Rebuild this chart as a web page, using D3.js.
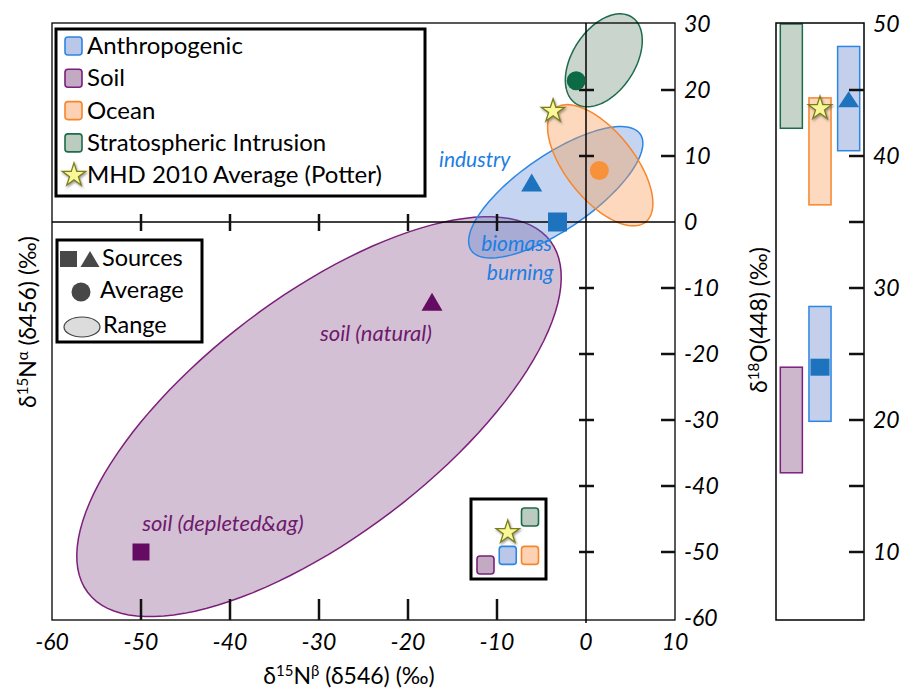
<!DOCTYPE html>
<html><head><meta charset="utf-8">
<script src="https://cdn.jsdelivr.net/npm/d3@7"></script>
<style>
body{margin:0;background:#fff;}
svg{font-family:Lato,"Open Sans",sans-serif;}
</style></head><body>
<svg id="chart" width="902" height="692"></svg>
<script>
// ---- groups and colours ----
const groups = ["Anthropogenic","Soil","Ocean","Stratospheric Intrusion"];
const groupStroke = ["#2b87e3","#7b1f7b","#f7862a","#1d6b4b"];
const groupLight = ["#bac7e9","#c3aac3","#fdd2b4","#bccbbf"];
const groupTint = ["#4f7fd3","#7c3f7c","#f99d58","#5c7e66"];
const groupDark = ["#1e73be","#660b64","#f7923a","#0c6a45"];

// ---- δ15N ranges (ellipses): centre and two semi-axis vectors, in ‰ ----
const rangeGroup = ["Soil","Anthropogenic","Ocean","Stratospheric Intrusion"];
const rangeCx = [-30.0, -3.4, 1.6, 2.0];
const rangeCy = [-29.5, 4.5, 8.6, 24.5];
const rangeUx = [26.0, 9.5, 5.1, 3.15];
const rangeUy = [26.6, 8.8, -8.6, 6.55];
const rangeVx = [8.05, 2.36, 3.0, -2.96];
const rangeVy = [-14.5, -4.66, 3.23, 2.59];

// ---- sources ----
const sourceNames = ["industry","biomass burning","soil (natural)","soil (depleted&ag)"];
const sourceGroup = ["Anthropogenic","Anthropogenic","Soil","Soil"];
const sourceShape = ["triangle","square","triangle","square"];
const sourceBeta = [-6.1, -3.2, -17.3, -50];
const sourceAlpha = [6.0, 0, -12.1, -50];

// ---- averages ----
const avgGroup = ["Ocean","Stratospheric Intrusion"];
const avgBeta = [1.5, -1.1];
const avgAlpha = [7.8, 21.4];

// ---- Mace Head 2010 average ----
const mhdBeta = -3.7, mhdAlpha = 16.8, mhdO18 = 43.6;

// ---- δ18O ranges ----
const o18Group = ["Stratospheric Intrusion","Soil","Ocean","Anthropogenic","Anthropogenic"];
const o18Column = [0,0,1,1,2];
const o18Low = [42.1, 16.0, 36.3, 19.9, 40.4];
const o18High = [50, 24.0, 44.4, 28.6, 48.3];
const o18Mark = [null,null,null,"square","triangle"];
const o18Value = [null,null,null,24.0,44.3];

// ---- ticks ----
const xTicks = [-60,-50,-40,-30,-20,-10,0,10];
const yTicks = [-60,-50,-40,-30,-20,-10,0,10,20,30];
const o18Labels = [10,20,30,40,50];
const o18Ticks = [10,15,20,25,30,35,40,45];

// ---- inset schematic ----
const insetGroup = ["Soil","Anthropogenic","Ocean","Stratospheric Intrusion"];
const insetCol = [0,1,2,2];
const insetRow = [0,0.5,0.5,2.5];
const insetStar = [1,1.7];

const gi = g => groups.indexOf(g);
const svg = d3.select("#chart");

const defs = svg.append("defs");
const sh = defs.append("filter").attr("id","shadow").attr("x","-50%").attr("y","-50%").attr("width","200%").attr("height","200%");
sh.append("feDropShadow").attr("dx",1).attr("dy",1.5).attr("stdDeviation",1.2).attr("flood-color","#555").attr("flood-opacity",0.6);

// ---- main scales ----
const x = d3.scaleLinear().domain([-60,10]).range([52,675]);
const y = d3.scaleLinear().domain([-60,30]).range([618,24]);

const main = svg.append("g");

// ellipses
const ellLine = d3.line().x(d=>x(d[0])).y(d=>y(d[1])).curve(d3.curveLinearClosed);
rangeGroup.forEach((g,i)=>{
  const pts = d3.range(0,360,3).map(a=>{
    const t = a*Math.PI/180;
    return [rangeCx[i]+Math.cos(t)*rangeUx[i]+Math.sin(t)*rangeVx[i],
            rangeCy[i]+Math.cos(t)*rangeUy[i]+Math.sin(t)*rangeVy[i]];
  });
  main.append("path").attr("d",ellLine(pts))
    .attr("fill",groupTint[gi(g)]).attr("fill-opacity",g==="Ocean"?0.4:0.33)
    .attr("stroke",groupStroke[gi(g)]).attr("stroke-width",1.5);
});

// frame
main.append("rect").attr("x",x(-60)).attr("y",y(30)-1).attr("width",x(10)-x(-60)).attr("height",y(-60)-y(30)+3)
  .attr("fill","none").attr("stroke","#000").attr("stroke-width",1.3);

// zero lines
main.append("line").attr("x1",x(-60)).attr("x2",x(10)).attr("y1",y(0)).attr("y2",y(0)).attr("stroke","#000").attr("stroke-width",1.5);
main.append("line").attr("x1",x(0)).attr("x2",x(0)).attr("y1",y(30)-1).attr("y2",y(-60)+5).attr("stroke","#000").attr("stroke-width",1.5);

// cross ticks on zero lines
yTicks.filter(v=>v!==0 && v>-60 && v<30).forEach(v=>{
  main.append("line").attr("x1",x(0)-7).attr("x2",x(0)+8).attr("y1",y(v)).attr("y2",y(v)).attr("stroke","#111").attr("stroke-width",2.5);
});
xTicks.filter(v=>v<0 && v>-60).forEach(v=>{
  main.append("line").attr("x1",x(v)).attr("x2",x(v)).attr("y1",y(0)-8).attr("y2",y(0)+9).attr("stroke","#111").attr("stroke-width",2.5);
});
// bottom ticks
xTicks.filter(v=>v<0 && v>-60).forEach(v=>{
  main.append("line").attr("x1",x(v)).attr("x2",x(v)).attr("y1",y(-60)+2).attr("y2",y(-60)-19).attr("stroke","#111").attr("stroke-width",2.5);
});
// right ticks
yTicks.filter(v=>v!==0 && v>-60 && v<30).forEach(v=>{
  main.append("line").attr("x1",x(10)-14).attr("x2",x(10)).attr("y1",y(v)).attr("y2",y(v)).attr("stroke","#111").attr("stroke-width",2.5);
});

// tick labels
main.selectAll(".xl").data(xTicks).join("text").attr("x",d=>x(d)).attr("y",y(-60)+32)
  .attr("text-anchor","middle").attr("font-size",23).attr("font-style","italic").text(d=>d);
main.selectAll(".yl").data(yTicks).join("text").attr("x",x(10)+9).attr("y",d=>y(d)+8)
  .attr("font-size",23).attr("font-style","italic").text(d=>d);

// marker helpers
function triPath(cx,cy,w,h){return `M${cx-w/2},${cy+h/2}L${cx+w/2},${cy+h/2}L${cx},${cy-h/2}Z`;}
const star = d3.symbol().type(d3.symbolStar).size(170);

// sources
sourceNames.forEach((n,i)=>{
  const cx = x(sourceBeta[i]), cy = y(sourceAlpha[i]), c = groupDark[gi(sourceGroup[i])];
  if(sourceShape[i]==="triangle") main.append("path").attr("d",triPath(cx,cy,21,18)).attr("fill",c);
  else { const s = sourceGroup[i]==="Soil"?17:19; main.append("rect").attr("x",cx-s/2).attr("y",cy-s/2).attr("width",s).attr("height",s).attr("fill",c); }
});
// averages
avgGroup.forEach((g,i)=>{
  main.append("circle").attr("cx",x(avgBeta[i])).attr("cy",y(avgAlpha[i])).attr("r",9.5).attr("fill",groupDark[gi(g)]);
});
// MHD star
main.append("path").attr("d",star()).attr("transform",`translate(${x(mhdBeta)},${y(mhdAlpha)})`)
  .attr("fill","#f8f79a").attr("stroke","#7d7d18").attr("stroke-width",1.3).attr("filter","url(#shadow)");

// annotations
const blueTxt = "#1c7ee2", purpTxt = "#6e1a6e";
function note(t,bx,by,col,anchor,fs){
  main.append("text").attr("x",x(bx)).attr("y",y(by)).attr("text-anchor",anchor).attr("fill",col)
    .attr("font-size",fs).attr("font-style","italic").text(t);
}
note("industry",-8.5,8.4,blueTxt,"end",21);
note("biomass",-7.8,-4.4,blueTxt,"middle",21);
note("burning",-7.4,-8.8,blueTxt,"middle",21);
note("soil (natural)",-23.6,-18.0,purpTxt,"middle",22);
note("soil (depleted&ag)",-40.8,-46.8,purpTxt,"middle",22);

// ---- legend (groups) ----
const lg = svg.append("g");
lg.append("rect").attr("x",56).attr("y",29).attr("width",369).attr("height",167).attr("fill","#fff").attr("stroke","#000").attr("stroke-width",3);
const legRows = groups.concat(["MHD 2010 Average (Potter)"]);
legRows.forEach((t,i)=>{
  const cy = 46 + i*32.3;
  if(i<4) lg.append("rect").attr("x",65).attr("y",cy-9).attr("width",17).attr("height",18).attr("rx",3)
    .attr("fill",groupLight[i]).attr("stroke",groupStroke[i]).attr("stroke-width",1.6);
  else lg.append("path").attr("d",star()).attr("transform",`translate(74,${cy})`)
    .attr("fill","#f8f79a").attr("stroke","#7d7d18").attr("stroke-width",1.3).attr("filter","url(#shadow)");
  lg.append("text").attr("x",87).attr("y",cy+8).attr("font-size",24).text(t);
});

// ---- legend (symbols) ----
const lk = svg.append("g");
lk.append("rect").attr("x",57).attr("y",240).attr("width",145).attr("height",102).attr("fill","#fff").attr("stroke","#000").attr("stroke-width",3);
lk.append("rect").attr("x",60).attr("y",251).attr("width",17).attr("height",16).attr("fill","#474747");
lk.append("path").attr("d",triPath(90,259,19,16)).attr("fill","#474747");
lk.append("text").attr("x",102).attr("y",266).attr("font-size",23.5).text("Sources");
lk.append("circle").attr("cx",81).attr("cy",292).attr("r",9.5).attr("fill","#474747");
lk.append("text").attr("x",100).attr("y",298).attr("font-size",23.5).text("Average");
lk.append("ellipse").attr("cx",82).attr("cy",327).attr("rx",18).attr("ry",10).attr("fill","#dcdcdc").attr("stroke","#444").attr("stroke-width",1.2);
lk.append("text").attr("x",103).attr("y",333).attr("font-size",23.5).text("Range");

// ---- inset schematic ----
const ix = d3.scaleLinear().domain([0,2]).range([485.5,530]);
const iy = d3.scaleLinear().domain([0,2.5]).range([565,517]);
const ins = svg.append("g");
ins.append("rect").attr("x",471).attr("y",499).attr("width",75).attr("height",80).attr("fill","#fff").attr("stroke","#000").attr("stroke-width",3);
insetGroup.forEach((g,i)=>{
  ins.append("rect").attr("x",ix(insetCol[i])-8.5).attr("y",iy(insetRow[i])-9).attr("width",17).attr("height",18).attr("rx",3)
    .attr("fill",groupLight[gi(g)]).attr("stroke",groupStroke[gi(g)]).attr("stroke-width",1.6);
});
ins.append("path").attr("d",star()).attr("transform",`translate(${ix(insetStar[0])},${iy(insetStar[1])})`)
  .attr("fill","#f8f79a").attr("stroke","#7d7d18").attr("stroke-width",1.3).attr("filter","url(#shadow)");

// ---- δ18O panel ----
const ry = d3.scaleLinear().domain([5,50]).range([618,24]);
const rx = d3.scaleBand().domain([0,1,2]).range([776,864]).paddingInner(0.23).paddingOuter(0.15);
const rp = svg.append("g");
defs.append("clipPath").attr("id","rclip").append("rect").attr("x",776).attr("y",ry(50)-1).attr("width",88).attr("height",ry(5)-ry(50)+3);
const rpc = rp.append("g").attr("clip-path","url(#rclip)");
o18Group.forEach((g,i)=>{
  rpc.append("rect").attr("x",rx(o18Column[i])).attr("width",rx.bandwidth())
    .attr("y",ry(o18High[i])).attr("height",ry(o18Low[i])-ry(o18High[i]))
    .attr("fill",groupLight[gi(g)]).attr("fill-opacity",0.85).attr("stroke",groupStroke[gi(g)]).attr("stroke-width",1.5);
  const cx = rx(o18Column[i])+rx.bandwidth()/2;
  if(o18Mark[i]==="square") rpc.append("rect").attr("x",cx-9.5).attr("y",ry(o18Value[i])-8.5).attr("width",19).attr("height",17).attr("fill",groupDark[gi(g)]);
  if(o18Mark[i]==="triangle") rpc.append("path").attr("d",triPath(cx,ry(o18Value[i]),21,16)).attr("fill",groupDark[gi(g)]);
});
rp.append("path").attr("d",star()).attr("transform",`translate(${rx(1)+rx.bandwidth()/2},${ry(mhdO18)})`)
  .attr("fill","#f8f79a").attr("stroke","#7d7d18").attr("stroke-width",1.3).attr("filter","url(#shadow)");
rp.append("rect").attr("x",776).attr("y",ry(50)-1).attr("width",88).attr("height",ry(5)-ry(50)+3)
  .attr("fill","none").attr("stroke","#000").attr("stroke-width",1.5);
o18Ticks.forEach(v=>{
  rp.append("line").attr("x1",864-15).attr("x2",864).attr("y1",ry(v)).attr("y2",ry(v)).attr("stroke","#111").attr("stroke-width",2.5);
});
rp.selectAll(".rl").data(o18Labels).join("text").attr("x",873).attr("y",d=>ry(d)+8)
  .attr("font-size",23).attr("font-style","italic").text(d=>d);

// ---- axis titles ----
function title(g, parts){
  const t = g.append("text").attr("font-size",23);
  parts.forEach(p=>{
    const s = t.append("tspan").text(p[0]);
    if(p[1]==="sup") s.attr("font-size",15).attr("dy",-8);
    if(p[1]==="down") s.attr("dy",8);
  });
  return t;
}
title(svg,[["δ"],["15","sup"],["N","down"],["β","sup"],[" (δ546) (‰)","down"]])
  .attr("x",349).attr("y",684).attr("text-anchor","middle");
title(svg,[["δ"],["15","sup"],["N","down"],["α","sup"],[" (δ456) (‰)","down"]])
  .attr("text-anchor","middle").attr("transform","translate(36,322) rotate(-90)");
title(svg,[["δ"],["18","sup"],["O(448) (‰)","down"]])
  .attr("text-anchor","middle").attr("transform","translate(767,320) rotate(-90)");
</script></body></html>
